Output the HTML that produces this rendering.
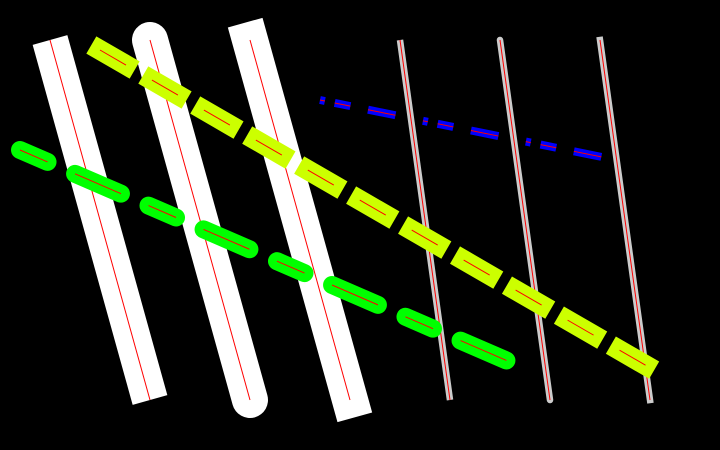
<!DOCTYPE html>
<html><head><meta charset="utf-8"><style>html,body{margin:0;padding:0;background:#000;}svg{display:block}</style></head>
<body>
<svg width="720" height="450" viewBox="0 0 720 450">
<rect width="720" height="450" fill="#000"/>
<g>
<line x1="50" y1="40" x2="150" y2="400" stroke="#fff" stroke-width="36" stroke-linecap="butt"/>
<line x1="150" y1="40" x2="250" y2="400" stroke="#fff" stroke-width="36" stroke-linecap="round"/>
<line x1="250" y1="40" x2="350" y2="400" stroke="#fff" stroke-width="36" stroke-linecap="square"/>
<line x1="50" y1="40" x2="150" y2="400" stroke="red" stroke-width="1"/>
<line x1="150" y1="40" x2="250" y2="400" stroke="red" stroke-width="1"/>
<line x1="250" y1="40" x2="350" y2="400" stroke="red" stroke-width="1"/>
</g>
<g>
<line x1="400" y1="40" x2="450" y2="400" stroke="#ccc" stroke-width="6.5" stroke-linecap="butt"/>
<line x1="500" y1="40" x2="550" y2="400" stroke="#ccc" stroke-width="6.5" stroke-linecap="round"/>
<line x1="600" y1="40" x2="650" y2="400" stroke="#ccc" stroke-width="6.5" stroke-linecap="square"/>
<line x1="400" y1="40" x2="450" y2="400" stroke="red" stroke-width="1"/>
<line x1="500" y1="40" x2="550" y2="400" stroke="red" stroke-width="1"/>
<line x1="600" y1="40" x2="650" y2="400" stroke="red" stroke-width="1"/>
</g>
<g>
<line x1="100" y1="50" x2="647" y2="366" stroke="#ccff00" stroke-width="20" stroke-linecap="square" stroke-dasharray="30,30"/>
<line x1="100" y1="50" x2="647" y2="366" stroke="red" stroke-width="1" stroke-dasharray="30,30"/>
</g>
<g>
<line x1="20" y1="150" x2="510" y2="362" stroke="#00ff00" stroke-width="18" stroke-linecap="round" stroke-dasharray="30,30,50,30"/>
<line x1="20" y1="150" x2="510" y2="362" stroke="red" stroke-width="1" stroke-dasharray="30,30,50,30"/>
</g>
<g>
<line x1="320" y1="100" x2="602" y2="157" stroke="#0000ff" stroke-width="8" stroke-dasharray="5,10,16,18,28,28"/>
<line x1="320" y1="100" x2="602" y2="157" stroke="red" stroke-width="1" stroke-dasharray="5,10,16,18,28,28"/>
</g>
</svg>
</body></html>
